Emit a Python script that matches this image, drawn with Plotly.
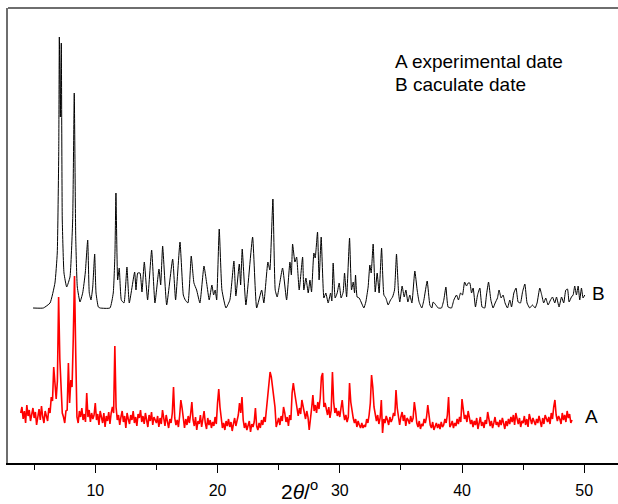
import numpy as np
import plotly.graph_objects as go

# ---------------- B: calculated pattern (2theta, intensity a.u.) ----------------
b_two_theta = [
    4.91, 5.75, 6.30, 6.70, 6.89, 7.01, 7.06, 7.14, 7.22, 7.30, 7.44, 7.66, 7.93, 8.15, 8.28, 8.40,
    8.53, 8.75, 8.97, 9.18, 9.38, 9.51, 9.65, 9.79, 9.95, 10.06, 10.25, 10.40, 11.20, 11.47, 11.61,
    11.69, 11.83, 11.96, 12.13, 12.35, 12.59, 12.78,
    13.22, 13.33, 13.47, 13.66, 13.82, 14.01, 14.28, 14.61, 14.88, 15.21, 15.35, 15.51, 15.84,
    16.33, 16.57, 16.93, 17.20, 17.36, 17.58, 17.85, 18.07, 18.29, 18.56, 18.89, 19.11, 19.32,
    19.54, 19.68, 19.81, 19.93, 20.14, 20.36, 20.69, 21.01, 21.34, 21.50, 21.78, 21.89, 22.02,
    22.32, 22.87, 23.20, 23.61, 23.79, 24.12, 24.28, 24.53, 24.72, 24.88, 25.32, 25.65, 25.92,
    26.04, 26.14, 26.33, 26.47, 26.68,
    26.96, 27.06, 27.23, 27.42, 27.56, 27.69, 27.88, 27.99, 28.18, 28.31, 28.48, 28.70, 28.86,
    29.05, 29.25, 29.35, 29.46, 29.62, 29.79, 29.95, 30.11, 30.28, 30.39, 30.56, 30.80, 30.96,
    31.10, 31.21, 31.29, 31.42, 31.59, 31.78, 31.97, 32.13, 32.32, 32.46, 32.57, 32.73, 32.90,
    33.06, 33.22, 33.42, 33.61, 33.77, 33.96, 34.15, 34.32, 34.48, 34.64, 34.81, 34.91, 35.10,
    35.27, 35.41, 35.57, 35.73, 35.90, 36.14, 36.33, 36.49, 36.71, 36.88, 37.15, 37.37, 37.53,
    37.64, 37.86, 38.05, 38.32, 38.51, 38.68, 38.86, 39.14, 39.33, 39.55, 39.71, 39.88, 40.04,
    40.21, 40.37, 40.50, 40.64, 40.78, 40.91, 41.10, 41.27, 41.46, 41.64, 41.86, 42.00, 42.17,
    42.36, 42.54, 42.71, 42.90, 43.03, 43.20, 43.36, 43.52, 43.72, 43.91, 44.05, 44.24, 44.42,
    44.59, 44.78, 44.95, 45.14, 45.32, 45.54, 45.76, 45.98, 46.14, 46.36, 46.52, 46.68, 46.85,
    47.04, 47.24, 47.40, 47.59, 47.73, 47.94, 48.14, 48.32, 48.49, 48.63, 48.76, 48.95, 49.09,
    49.22, 49.36, 49.50, 49.63, 49.77, 49.90, 50.04,
]
b_intensity = [
    0, 0, 5, 25, 55, 155, 271, 191, 265, 88, 35, 21, 31, 88, 215, 71,
    21, 6, 15, 35, 68, 15, 8, 21, 54, 15, 1, 0, 0, 15, 55,
    115, 28, 40, 8, 5, 41, 5,
    36, 18, 35, 35, 16, 46, 8, 58, 5, 39, 23, 62, 3,
    49, 8, 66, 13, 8, 5, 52, 25, 18, 5, 42, 25, 8,
    23, 13, 18, 8, 79, 18, 0, 8, 47, 12, 44, 23, 59,
    3, 71, 0, 18, 5, 46, 38, 109, 18, 11, 40, 8, 46,
    33, 64, 46, 51, 18,
    51, 18, 30, 15, 28, 16, 55, 50, 76, 28, 71, 10, 15,
    5, 15, 7, 45, 10, 15, 25, 10, 16, 35, 11, 70, 18,
    26, 15, 33, 11, 10, 5, 0, 6, 21, 43, 35, 64, 16,
    35, 15, 60, 13, 10, 3, 8, 11, 18, 54, 15, 6, 22,
    11, 18, 6, 13, 5, 37, 18, 6, 0, 8, 27, 3, 0,
    6, 3, 0, 0, 8, 21, 1, 0, 8, 13, 8, 15, 13,
    26, 22, 25, 25, 15, 20, 1, 13, 20, 1, 0, 13, 26,
    8, 0, 5, 10, 18, 10, 13, 5, 0, 8, 1, 15, 20,
    6, 5, 16, 24, 5, 0, 3, 0, 5, 20, 13, 5, 10,
    3, 8, 11, 5, 11, 1, 11, 5, 18, 19, 6, 11, 13,
    22, 13, 22, 8, 20, 10, 13,
]
B_OFFSET = 155

# ---------------- A: experimental pattern, scan from 3.9 deg, step 0.1 deg ----------------
A_START = 3.9
A_STEP = 0.1
a_intensity = [
    50,
    56, 44, 52, 40, 58, 47, 53, 42, 49, 55,      # 4
    45, 51, 38, 48, 54, 43, 57, 46, 40, 52,      # 5
    47, 42, 55, 50, 66, 62, 96, 74, 64, 82,      # 6
    166, 104, 75, 50, 46, 40, 52, 53, 100, 60,   # 7
    83, 76, 125, 187, 110, 46, 40, 52, 46, 55,   # 8
    43, 49, 41, 70, 46, 53, 41, 50, 44, 48,      # 9
    60, 43, 49, 38, 52, 45, 40, 50, 36, 47,      # 10
    42, 51, 39, 50, 56, 50, 117, 56, 43, 48,     # 11
    38, 46, 52, 41, 47, 35, 50, 44, 39, 48,      # 12
    43, 52, 40, 46, 37, 49, 45, 53, 41, 47,      # 13
    39, 50, 44, 36, 48, 42, 51, 38, 46, 43,      # 14
    40, 47, 36, 45, 39, 53, 42, 37, 48, 41,      # 15
    35, 44, 40, 50, 76, 45, 38, 43, 36, 47,      # 16
    63, 55, 41, 35, 44, 38, 47, 40, 49, 61,      # 17
    43, 37, 46, 33, 42, 39, 48, 36, 44, 52,      # 18
    40, 34, 45, 38, 43, 35, 41, 37, 46, 39,      # 19
    60, 74, 56, 41, 35, 40, 33, 42, 37, 44,      # 20
    36, 41, 32, 39, 45, 37, 42, 48, 60, 50,      # 21
    66, 43, 35, 40, 33, 38, 42, 31, 39, 36,      # 22
    41, 55, 37, 33, 40, 35, 43, 38, 46, 41,      # 23
    52, 66, 80, 91, 86, 76, 70, 56, 36, 40,      # 24
    45, 38, 47, 42, 56, 50, 41, 46, 37, 48,      # 25
    43, 70, 80, 71, 61, 52, 47, 55, 49, 63,      # 26
    56, 50, 44, 52, 46, 33, 48, 55, 68, 52,      # 27
    58, 50, 61, 54, 65, 86, 90, 56, 60, 52,      # 28
    48, 56, 45, 53, 91, 61, 50, 55, 47, 52,      # 29
    46, 55, 63, 50, 43, 48, 41, 46, 80, 61,      # 30
    52, 45, 40, 44, 36, 42, 38, 35, 40, 35,      # 31
    38, 36, 44, 40, 48, 60, 88, 76, 56, 46,      # 32
    42, 48, 39, 45, 63, 30, 44, 40, 47, 43,      # 33
    38, 46, 41, 44, 50, 47, 73, 55, 43, 38,      # 34
    46, 51, 42, 48, 37, 45, 43, 39, 47, 41,      # 35
    45, 61, 52, 40, 36, 42, 34, 39, 37, 44,      # 36
    40, 46, 58, 46, 38, 35, 41, 33, 37, 40,      # 37
    35, 39, 34, 41, 36, 38, 44, 40, 48, 66,      # 38
    36, 38, 42, 35, 40, 37, 44, 39, 46, 41,      # 39
    64, 50, 44, 48, 41, 52, 45, 39, 43, 36,      # 40
    42, 38, 45, 34, 40, 46, 37, 41, 35, 43,      # 41
    39, 51, 44, 37, 42, 35, 40, 46, 38, 41,      # 42
    36, 43, 38, 45, 40, 34, 42, 37, 44, 39,      # 43
    46, 41, 48, 38, 50, 43, 39, 45, 36, 42,      # 44
    40, 47, 38, 44, 36, 49, 42, 39, 45, 41,      # 45
    38, 44, 40, 47, 42, 36, 45, 39, 48, 43,      # 46
    41, 46, 39, 50, 44, 56, 63, 48, 42, 47,      # 47
    44, 39, 50, 43, 48, 41, 52, 45, 49, 40,      # 48
    43,
]
a_two_theta = np.round(A_START + A_STEP * np.arange(len(a_intensity)), 2)

x_ticks = [10, 20, 30, 40, 50]
legend_lines = ["A experimental date", "B caculate date"]
trace_labels = ["A", "B"]

FONT = "Arial, Liberation Sans, sans-serif"

fig = go.Figure()
fig.add_trace(go.Scatter(
    x=b_two_theta, y=[v + B_OFFSET for v in b_intensity], mode="lines",
    line=dict(color="black", width=1, shape="spline", smoothing=0.4),
    showlegend=False, hoverinfo="skip"))
fig.add_trace(go.Scatter(
    x=a_two_theta, y=a_intensity, mode="lines",
    line=dict(color="#ff0000", width=1.6), showlegend=False, hoverinfo="skip"))

fig.update_layout(
    width=618, height=504,
    margin=dict(l=8, r=0, t=8, b=41),
    paper_bgcolor="white", plot_bgcolor="white",
    font=dict(family=FONT, color="black"),
    xaxis=dict(
        range=[2.86, 52.76], tickvals=x_ticks, ticktext=[str(t) for t in x_ticks],
        ticks="outside", ticklen=8, tickwidth=1.3, tickcolor="black",
        tickfont=dict(size=16, family=FONT, color="black"),
        ticklabelstandoff=4,
        minor=dict(ticks="outside", ticklen=5, tickwidth=1.3, tickcolor="black", dtick=5, tick0=0),
        showline=True, linecolor="black", linewidth=1.5,
        showgrid=False, zeroline=False,
    ),
    yaxis=dict(
        range=[0, 455], showticklabels=False, ticks="",
        showline=True, linecolor="#6e6e6e", linewidth=2,
        showgrid=False, zeroline=False,
    ),
    shapes=[dict(type="line", xref="paper", yref="paper", x0=0, x1=1, y0=1, y1=1,
                 line=dict(color="#6e6e6e", width=2))],
)

# axis title
fig.add_annotation(x=26.74, xref="x", y=-0.059, yref="paper",
                   text="2<i>θ</i>/<sup>o</sup>", showarrow=False,
                   font=dict(size=21, family=FONT, color="black"),
                   xanchor="center", yanchor="middle")
# key text
for i, line in enumerate(legend_lines):
    fig.add_annotation(x=0.631, xref="paper", y=0.8835 - i * 0.0527, yref="paper",
                       text=line, showarrow=False,
                       font=dict(size=19, family=FONT, color="black"),
                       xanchor="left", yanchor="middle")
# trace labels
fig.add_annotation(x=0.9426, xref="paper", y=0.103, yref="paper", text=trace_labels[0],
                   showarrow=False, font=dict(size=19, family=FONT, color="black"),
                   xanchor="left", yanchor="middle")
fig.add_annotation(x=0.954, xref="paper", y=0.3736, yref="paper", text=trace_labels[1],
                   showarrow=False, font=dict(size=19, family=FONT, color="black"),
                   xanchor="left", yanchor="middle")

fig.write_html(
    "out.html",
    config={"displayModeBar": False},
    post_script="document.body.style.margin='0';document.body.style.overflow='hidden';",
)
